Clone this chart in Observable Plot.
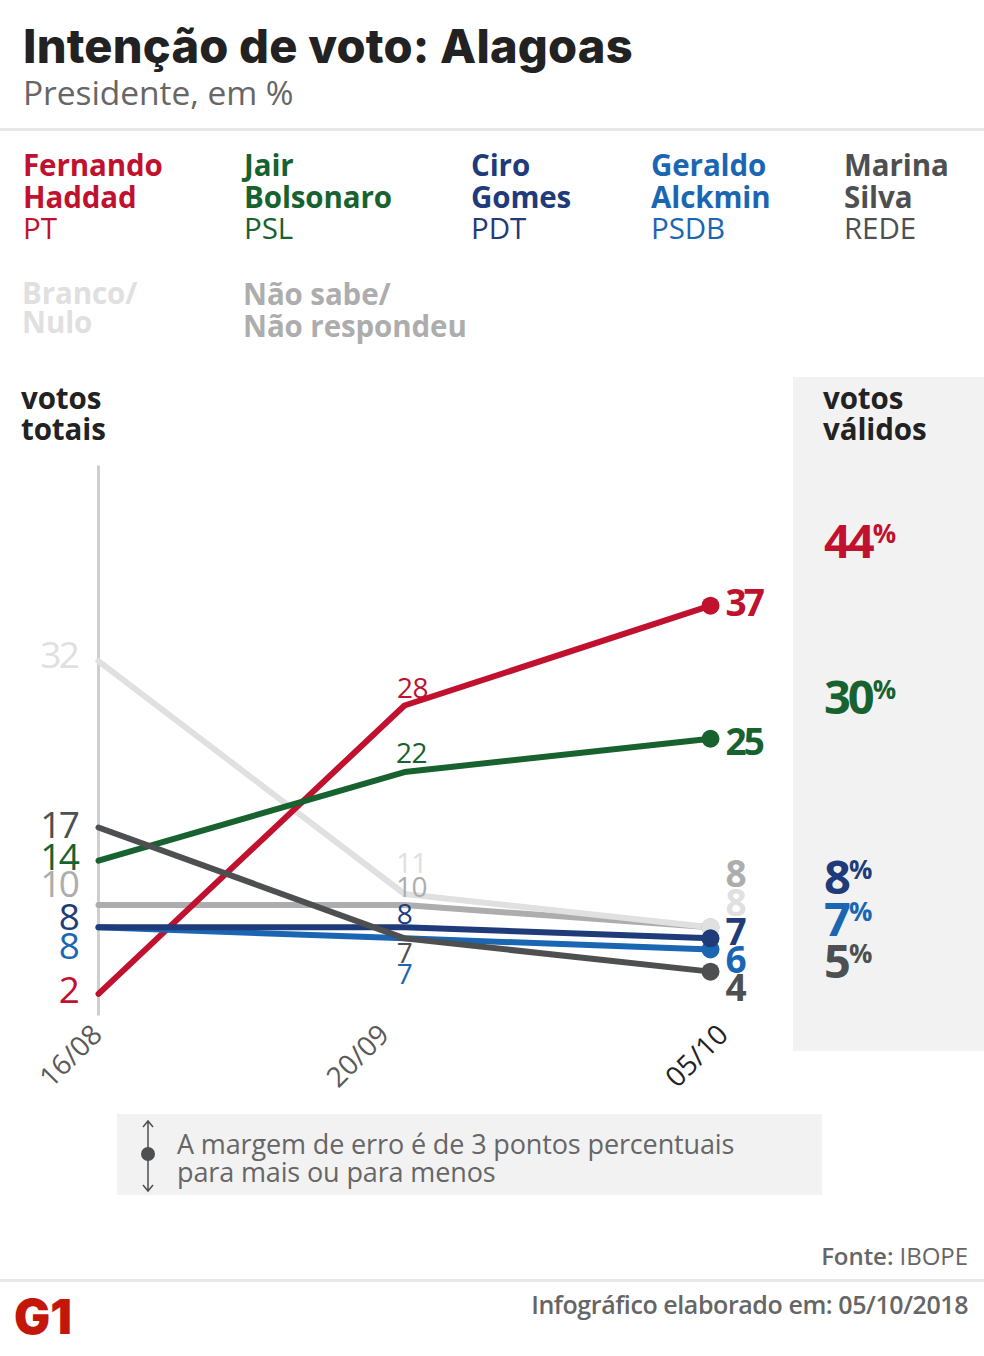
<!DOCTYPE html>
<html lang="pt-BR">
<head>
<meta charset="utf-8">
<script src="https://cdn.jsdelivr.net/npm/d3@7"></script>
<script src="https://cdn.jsdelivr.net/npm/@observablehq/plot@0.6"></script>
<style>
html,body{margin:0;padding:0;background:#fff}
#page{position:relative;width:984px;height:1356px;overflow:hidden;font-family:"Open Sans",sans-serif}
#page>*{position:absolute}
.t{white-space:nowrap}
.rule{left:0;width:984px;height:3px;background:#e8e8e8}
.name{font-weight:700;font-size:29.5px;line-height:31.5px;letter-spacing:-.1px}
.party{font-weight:400;font-size:29.5px;line-height:31.5px;letter-spacing:-.1px}
.head{font-weight:700;font-size:29.5px;line-height:31px;color:#222;letter-spacing:-.1px}
.valid{left:824px;font-weight:700;font-size:47px;line-height:48px;letter-spacing:-3px}
.valid sup{font-size:26px;line-height:0;vertical-align:15px;letter-spacing:-1px;margin-left:1px}
.lab-start text{letter-spacing:-2.5px}
.lab-mid text{letter-spacing:-.6px}
.lab-end text{letter-spacing:-3px}
</style>
</head>
<body>
<div id="page"></div>
<script>
const dates = ["16/08", "20/09", "05/10"];
const candidates = ["Não sabe/Não respondeu", "Branco/Nulo", "Fernando Haddad", "Jair Bolsonaro", "Geraldo Alckmin", "Ciro Gomes", "Marina Silva"];
const naoSabe = [10, 10, 8];
const branco = [32, 11, 8];
const haddad = [2, 28, 37];
const bolsonaro = [14, 22, 25];
const alckmin = [8, 7, 6];
const ciro = [8, 8, 7];
const marina = [17, 7, 4];
const validVotes = [44, 30, 8, 7, 5];
const validColors = ["#c0112f", "#17622f", "#1f3b7a", "#1b66b3", "#4d4f51"];
const validCenters = [540, 696, 876, 918, 960];

const seriesValues = [naoSabe, branco, haddad, bolsonaro, alckmin, ciro, marina];
const colors = ["#adadad", "#e0e0e0", "#c0112f", "#17622f", "#1b66b3", "#1f3b7a", "#4d4f51"];
// vertical label nudges, in pixels, that keep crowded labels apart: [start, middle, end]
const nudges = [[-20, -17, -52], [-5, -30, -23], [-3, -16, -2], [-3, -18, 4], [20, 37, 12], [-9, -12, -5], [-1, 16, 18]];
const middleDx = [7, 7, 8, 7, 0, 0, 0];

const rows = candidates.flatMap((c, i) => dates.map((d, j) => ({candidate: c, date: d, value: seriesValues[i][j], color: colors[i]})));

const tickStyle = {tickSize: 0, tickRotate: -45, tickPadding: 9, dy: 5, fontSize: 28, label: null, fontFamily: "Open Sans"};
const marks = [
  Plot.ruleX([dates[0]], {y1: 0, y2: 49.6, stroke: "#cfcfcf", strokeWidth: 3}),
  Plot.ruleY([0], {x1: dates[0], x2: dates[2], stroke: "#cfcfcf", strokeWidth: 3}),
  Plot.axisX({...tickStyle, ticks: [dates[0]], dx: -1, color: "#5a5a5a"}),
  Plot.axisX({...tickStyle, ticks: [dates[1]], dx: -20, color: "#5a5a5a"}),
  Plot.axisX({...tickStyle, ticks: [dates[2]], dx: 13, color: "#222"})
];
candidates.forEach((c, i) => {
  const data = rows.filter(r => r.candidate === c);
  marks.push(Plot.line(data, {x: "date", y: "value", stroke: colors[i], strokeWidth: 6, strokeLinejoin: "round"}));
});
candidates.forEach((c, i) => {
  const data = rows.filter(r => r.candidate === c);
  marks.push(Plot.dot(data.slice(2), {x: "date", y: "value", fill: colors[i], r: 9}));
  marks.push(Plot.text(data.slice(0, 1), {x: "date", y: "value", text: "value", fill: colors[i], fontSize: 37, textAnchor: "end", dx: -21, dy: nudges[i][0], fontFamily: "Open Sans", className: "lab-start"}));
  marks.push(Plot.text(data.slice(1, 2), {x: "date", y: "value", text: "value", fill: colors[i], fontSize: 28, dx: middleDx[i], dy: nudges[i][1], fontFamily: "Open Sans", className: "lab-mid"}));
  marks.push(Plot.text(data.slice(2), {x: "date", y: "value", text: "value", fill: colors[i], fontSize: 37, fontWeight: 700, textAnchor: "start", dx: 15, dy: nudges[i][2], fontFamily: "Open Sans", className: "lab-end"}));
});

const chart = Plot.plot({
  width: 984, height: 660,
  marginTop: 21, marginBottom: 84.5, marginLeft: 98, marginRight: 274,
  style: {background: "transparent", overflow: "visible"},
  x: {type: "point", domain: dates, padding: 0, axis: null},
  y: {domain: [0, 50], axis: null},
  marks
});

const page = document.getElementById("page");
function add(html, css, cls) {
  const e = document.createElement("div");
  e.className = "t " + (cls || "");
  e.innerHTML = html;
  e.style.cssText = css;
  page.appendChild(e);
  return e;
}
add("Intenção de voto: Alagoas", 'left:23px;top:18px;font-family:Inter,sans-serif;font-weight:800;font-size:47px;line-height:56px;color:#222;letter-spacing:.2px');
add("Presidente, em %", 'left:23px;top:71px;font-size:33.5px;line-height:42px;color:#666;letter-spacing:-.05px');
add("", "top:128px", "rule");

const legend = [
  [23, "Fernando<br>Haddad", "PT", colors[2]],
  [244, "Jair<br>Bolsonaro", "PSL", colors[3]],
  [471, "Ciro<br>Gomes", "PDT", colors[5]],
  [651, "Geraldo<br>Alckmin", "PSDB", colors[4]],
  [844, "Marina<br>Silva", "REDE", colors[6]]
];
legend.forEach(([x, n, p, col]) => {
  add(n, `left:${x}px;top:149px;color:${col}`, "name");
  add(p, `left:${x}px;top:212px;color:${col}`, "party");
});
add("Branco/<br>Nulo", `left:22px;top:278px;color:${colors[1]};line-height:29px`, "name");
add("Não sabe/<br>Não respondeu", `left:243px;top:278px;color:${colors[0]}`, "name");

add("", "left:793px;top:377px;width:191px;height:674px;background:#f2f2f2");
add("votos<br>totais", "top:382px;left:21px", "head");
add("votos<br>válidos", "top:382px;left:823px", "head");
validVotes.forEach((v, i) => {
  add(`${v}<sup>%</sup>`, `top:${validCenters[i] - 24}px;color:${validColors[i]}`, "valid");
});

chart.style.cssText = "position:absolute;left:0;top:440px";
page.appendChild(chart);

add("", "left:117px;top:1114px;width:705px;height:81px;background:#f2f2f2");
const icon = document.createElementNS("http://www.w3.org/2000/svg", "svg");
icon.setAttribute("width", 20); icon.setAttribute("height", 74);
icon.style.cssText = "left:138px;top:1119px";
icon.innerHTML = '<path d="M10 2V72M5 8L10 2L15 8M5 66L10 72L15 66" fill="none" stroke="#4d4f51" stroke-width="1.5"/><circle cx="10" cy="35" r="7" fill="#4d4f51"/>';
page.appendChild(icon);
add("A margem de erro é de 3 pontos percentuais<br>para mais ou para menos", "left:177px;top:1130px;font-size:27px;line-height:28px;color:#666;letter-spacing:-.13px");

add('<span style="font-weight:600">Fonte:</span> IBOPE', "right:16px;top:1240px;font-size:24px;line-height:32px;color:#666;letter-spacing:-.05px");
add("", "top:1279px", "rule");
add("Infográfico elaborado em: 05/10/2018", "right:16px;top:1288px;font-size:25px;line-height:32px;font-weight:600;color:#666;letter-spacing:-.42px");
add("G1", "left:14px;top:1289px;font-family:Inter,sans-serif;font-weight:900;font-size:48px;line-height:56px;color:#c4170c;letter-spacing:0");
</script>
</body>
</html>
